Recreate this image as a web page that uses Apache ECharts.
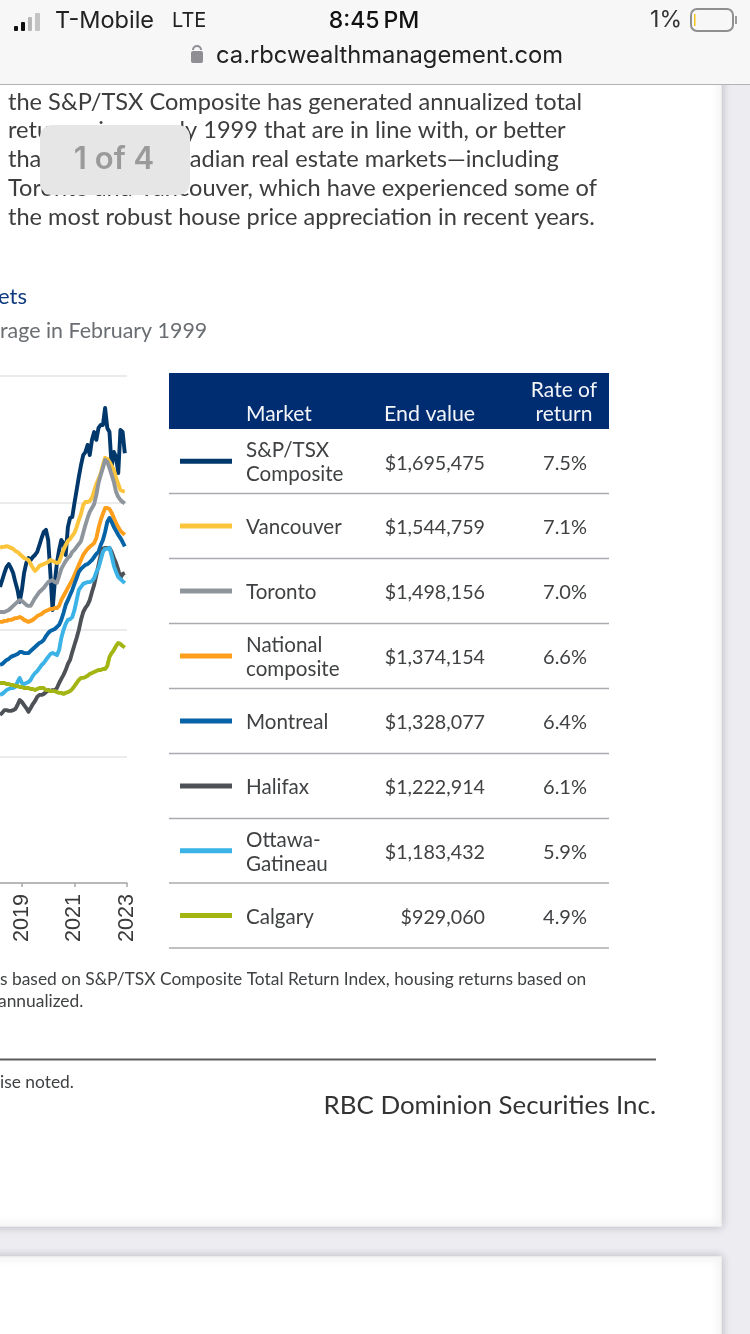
<!DOCTYPE html>
<html>
<head>
<meta charset="utf-8">
<style>html,body{margin:0;padding:0;background:#ececf1}#c{width:750px;height:1334px}</style>
<script src="https://cdn.jsdelivr.net/npm/echarts@6/dist/echarts.min.js"></script>
</head>
<body>
<div id="c"></div>
<script>
const months = ['2018-03','2018-04','2018-05','2018-06','2018-07','2018-08','2018-09','2018-10','2018-11','2018-12',
'2019-01','2019-02','2019-03','2019-04','2019-05','2019-06','2019-07','2019-08','2019-09','2019-10','2019-11','2019-12',
'2020-01','2020-02','2020-03','2020-04','2020-05','2020-06','2020-07','2020-08','2020-09','2020-10','2020-11','2020-12',
'2021-01','2021-02','2021-03','2021-04','2021-05','2021-06','2021-07','2021-08','2021-09','2021-10','2021-11','2021-12',
'2022-01','2022-02','2022-03','2022-04','2022-05','2022-06','2022-07','2022-08','2022-09','2022-10','2022-11','2022-12','2023-01'];
const labelledTicks = ['2019-01','2021-01','2023-01'];
const sptsx = [1168,1195,1223,1247,1258,1243,1223,1187,1156,1109,1156,1223,1262,1282,1274,1286,1294,1306,1333,1361,1385,1393,1353,1223,1077,1184,1262,1314,1353,1341,1294,1404,1440,1444,1499,1550,1602,1649,1688,1700,1728,1688,1748,1779,1748,1795,1807,1807,1874,1795,1779,1641,1700,1681,1617,1787,1779,1695];
const vancouver = [1322,1326,1326,1329,1326,1322,1318,1310,1306,1298,1290,1282,1278,1274,1258,1243,1231,1239,1251,1255,1258,1262,1266,1274,1270,1266,1262,1266,1290,1314,1333,1349,1357,1369,1381,1404,1432,1456,1491,1503,1503,1507,1519,1546,1574,1594,1614,1649,1677,1673,1661,1645,1629,1598,1574,1550,1546,1545];
const toronto = [1069,1069,1069,1073,1077,1085,1093,1101,1109,1116,1113,1105,1097,1093,1093,1109,1124,1136,1148,1156,1164,1176,1187,1191,1195,1187,1184,1211,1239,1255,1270,1282,1290,1306,1314,1326,1337,1349,1381,1412,1440,1464,1479,1495,1531,1578,1610,1637,1669,1661,1637,1610,1582,1543,1523,1511,1503,1498];
const national = [1030,1030,1034,1034,1038,1038,1041,1045,1045,1049,1045,1038,1034,1030,1034,1038,1045,1053,1057,1061,1069,1073,1077,1081,1081,1085,1085,1093,1116,1132,1148,1164,1180,1195,1215,1235,1255,1274,1294,1306,1318,1326,1333,1341,1361,1400,1432,1456,1479,1479,1475,1460,1440,1420,1404,1389,1381,1374];
const montreal = [860,864,872,880,884,892,896,899,903,911,911,907,907,907,915,923,931,939,947,951,959,974,986,994,998,1002,1010,1018,1038,1065,1097,1116,1136,1156,1180,1203,1227,1239,1247,1255,1258,1266,1274,1286,1298,1306,1333,1353,1385,1424,1440,1424,1404,1389,1373,1361,1345,1328];
const halifax = [663,671,682,682,679,679,682,686,702,722,714,702,690,675,690,706,718,734,742,742,746,753,761,757,761,761,769,789,805,821,840,864,880,911,939,967,998,1038,1069,1085,1097,1116,1148,1176,1215,1255,1294,1318,1322,1322,1322,1306,1282,1262,1235,1203,1219,1223];
const ottawa = [742,746,753,761,765,769,769,773,793,809,789,785,789,793,801,817,828,836,848,860,868,880,892,903,907,903,899,919,967,998,1022,1038,1041,1049,1077,1116,1156,1168,1180,1184,1187,1187,1191,1203,1227,1243,1274,1306,1318,1318,1322,1290,1251,1227,1207,1199,1191,1183];
const calgary = [789,789,789,785,785,781,781,777,777,773,773,769,769,769,765,765,761,765,769,769,769,761,761,757,757,757,753,750,750,746,750,753,757,765,777,789,801,809,809,813,817,825,828,832,836,840,840,844,844,856,892,907,919,935,947,943,935,929];

const marketNames = ['S&P/TSX\nComposite','Vancouver','Toronto','National\ncomposite','Montreal','Halifax','Ottawa-\nGatineau','Calgary'];
const endValues = ['$1,695,475','$1,544,759','$1,498,156','$1,374,154','$1,328,077','$1,222,914','$1,183,432','$929,060'];
const rates = ['7.5%','7.1%','7.0%','6.6%','6.4%','6.1%','5.9%','4.9%'];
const colors = ['#00386b','#fbc43a','#8e959c','#fd9f1c','#0563a8','#4e5257','#3bb3e6','#a3b512'];
const seriesData = [sptsx,vancouver,toronto,national,montreal,halifax,ottawa,calgary];
const bodyLines = ['the S&P/TSX Composite has generated annualized total','returns since early 1999 that are in line with, or better','than those in Canadian real estate markets\u2014including','Toronto and Vancouver, which have experienced some of','the most robust house price appreciation in recent years.'];

const FONT = 'Lato, sans-serif';
const g = [];
function T(text,x,y,size,fill,align,z,family,weight){g.push({type:'text',z:z||50,style:{text:text,x:x,y:y,font:(weight||'normal')+' '+size+'px '+(family||FONT),fill:fill,textAlign:align||'left',textVerticalAlign:'middle',lineHeight:24}});}
function R(x,y,w,h,fill,z,extra){g.push({type:'rect',z:z||40,shape:Object.assign({x:x,y:y,width:w,height:h},(extra&&extra.r)?{r:extra.r}:{}),style:Object.assign({fill:fill},extra&&extra.style||{})});}

// page sheets
const shadow={shadowColor:'rgba(60,60,80,0.28)',shadowBlur:9,stroke:'#f3f3f1',lineWidth:1.5};
g.push({type:'rect',z:-3,shape:{x:-20,y:60,width:741,height:1166},style:Object.assign({fill:'#fff'},shadow)});
g.push({type:'rect',z:-3,shape:{x:-20,y:1257,width:741,height:120},style:Object.assign({fill:'#fff'},shadow)});

// body copy
bodyLines.forEach((t,i)=>T(t,8,102+i*28.8,23.6,'#3d3d3d'));
T('g',25,73,23.6,'#3d3d3d');
T('ets',-2,297,22,'#0f3a80');
T('rage in February 1999',0,331,21.4,'#6a6e72');

// table
R(169,373,440,56,'#002d72');
T('Market',246,414,21,'#f2f4f8');
T('End value',384,414,21.4,'#f2f4f8');
T('Rate of',564,390,21,'#f2f4f8','center');
T('return',564,414,21,'#f2f4f8','center');
const rowBottoms=[493.5,558.5,623.5,688.5,753.5,818.5,883,948];
marketNames.forEach((m,i)=>{
  const top=i?rowBottoms[i-1]:429, mid=(top+rowBottoms[i])/2;
  R(169,rowBottoms[i]-0.75,440,1.5,'#a9abae');
  R(180,mid-2.5,52,5,colors[i]);
  T(m,246,mid+1.5,20.6,'#3f4143');
  T(endValues[i],485,mid+2,19.7,'#3f4143','right');
  T(rates[i],587,mid+2,20,'#3f4143','right');
});

// foot notes
T('s based on S&P/TSX Composite Total Return Index, housing returns based on',0,979,17.4,'#3f4143');
T('annualized.',-2,1001,17.4,'#3f4143');
R(0,1058.5,656,2,'#5c5c5c');
T('ise noted.',0,1082,17.4,'#3f4143');
T('RBC Dominion Securities Inc.',656,1106,25.9,'#333','right');

// browser chrome
R(0,0,750,84,'#f7f7f7',80);
R(0,84,750,1,'#b3b3b3',80);
[[14,26,4,5,'#111'],[21,22,4,9,'#111'],[28,17,4,14,'#b8b8b8'],[35,13,5,18,'#c4c4c4']].forEach(b=>R(b[0],b[1],b[2],b[3],b[4],81,{r:1}));
const CH='Inter, Roboto, sans-serif';
T('T-Mobile',55,21,23.5,'#222','left',81,CH);
T('LTE',172,21,20,'#222','left',81,CH);
T('8:45\u2009PM',374,21,23,'#111','center',81,CH,'500');
T('1%',682,20,23,'#333','right',81,CH);
g.push({type:'rect',z:81,shape:{x:691,y:9,width:42,height:22,r:6},style:{fill:'none',stroke:'#8f8f8f',lineWidth:2}});
R(735,16,2,8,'#9a9a9a',81);
R(694,14,1.5,12,'#f5c518',82);
R(191,51,12,12,'#8e8e93',81,{r:2});
g.push({type:'arc',z:81,shape:{cx:197,cy:50,r:4,startAngle:Math.PI,endAngle:0},style:{fill:'none',stroke:'#8e8e93',lineWidth:2}});
T('ca.rbcwealthmanagement.com',216,56,23.75,'#222','left',81,CH);

// page indicator
R(40,125,150,70,'#e6e6e6',90,{r:12});
T('1 of 4',114,160,31,'#9a9a9a','center',91,CH,'600');

const option={
  animation:false,
  backgroundColor:'transparent',
  grid:{left:0,width:127,top:376,height:507,containLabel:false},
  xAxis:{type:'category',data:months,boundaryGap:false,
    axisLine:{lineStyle:{color:'#a8a8a8',width:1.5}},
    axisTick:{length:4,lineStyle:{color:'#a8a8a8',width:1.5},interval:(i,v)=>labelledTicks.includes(v)},
    axisLabel:{rotate:90,margin:11,fontFamily:'Liberation Sans, Arial',fontSize:21.6,color:'#3a3a3a',
      interval:(i,v)=>labelledTicks.includes(v),formatter:v=>v.slice(0,4),showMaxLabel:true,hideOverlap:false},
    splitLine:{show:false}},
  yAxis:{type:'value',min:0,max:2000,interval:500,axisLine:{show:false},axisTick:{show:false},axisLabel:{show:false},
    splitLine:{lineStyle:{color:'#ebebeb',width:2}}},
  series:marketNames.map((m,i)=>({name:m.replace('\n',' '),type:'line',data:seriesData[i],showSymbol:false,symbol:'none',
    lineStyle:{color:colors[i],width:3.9,join:'round'},z:3+i,silent:true})),
  graphic:{elements:g}
};
echarts.init(document.getElementById('c')).setOption(option);
</script>
</body>
</html>
